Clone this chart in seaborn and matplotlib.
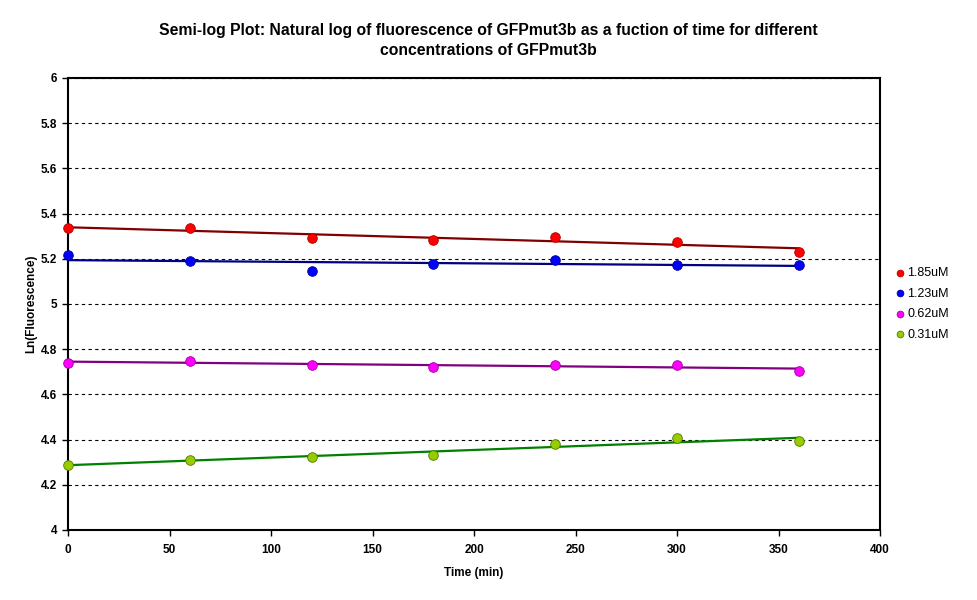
import numpy as np
import pandas as pd
import matplotlib
matplotlib.use("Agg")
import matplotlib.pyplot as plt
import seaborn as sns

time_min = [0, 60, 120, 180, 240, 300, 360]
ln_185 = [5.336, 5.336, 5.294, 5.283, 5.295, 5.276, 5.231]
ln_123 = [5.217, 5.190, 5.146, 5.177, 5.193, 5.173, 5.173]
ln_062 = [4.740, 4.749, 4.731, 4.721, 4.731, 4.731, 4.704]
ln_031 = [4.288, 4.310, 4.323, 4.332, 4.379, 4.406, 4.394]
series_labels = ["1.85uM", "1.23uM", "0.62uM", "0.31uM"]
y_ticks = [4, 4.2, 4.4, 4.6, 4.8, 5, 5.2, 5.4, 5.6, 5.8, 6]
y_tick_labels = ["4", "4.2", "4.4", "4.6", "4.8", "5", "5.2", "5.4", "5.6", "5.8", "6"]
x_ticks = [0, 50, 100, 150, 200, 250, 300, 350, 400]

point_colors = ["#FF0000", "#0000FF", "#FF00FF", "#99CC00"]
edge_colors = ["#B00000", "#000090", "#A000A0", "#4A7A00"]
line_colors = ["#800000", "#000080", "#800080", "#008000"]

sns.set_style("white")
plt.rcParams["font.family"] = ["Liberation Sans", "DejaVu Sans"]
plt.rcParams["text.color"] = "black"
plt.rcParams["axes.labelcolor"] = "black"
plt.rcParams["xtick.color"] = "black"
plt.rcParams["ytick.color"] = "black"

df = pd.DataFrame({"time": time_min * 4,
                   "value": ln_185 + ln_123 + ln_062 + ln_031,
                   "series": sum([[s] * len(time_min) for s in series_labels], [])})

fig = plt.figure(figsize=(9.77, 6.0), dpi=100)
ax = fig.add_axes([68 / 977, 70 / 600, (880 - 68) / 977, (530 - 78) / 600])

for i, s in enumerate(series_labels):
    sub = df[df["series"] == s]
    sns.regplot(data=sub, x="time", y="value", scatter=False, ci=None, truncate=True,
                ax=ax, line_kws={"color": line_colors[i], "lw": 1.6, "zorder": 2})
for i, s in enumerate(series_labels):
    sub = df[df["series"] == s]
    sns.scatterplot(data=sub, x="time", y="value", ax=ax, color=point_colors[i],
                    edgecolor=edge_colors[i], linewidth=0.6, s=48, zorder=3,
                    label=s, clip_on=False)

ax.set_xlim(0, 400)
ax.set_ylim(4, 6)
ax.set_xticks(x_ticks)
ax.set_yticks(y_ticks)
ax.set_yticklabels(y_tick_labels)
ax.yaxis.grid(True, linestyle=(0, (3, 3)), color="black", linewidth=0.8)
ax.xaxis.grid(False)
for sp in ax.spines.values():
    sp.set_visible(True)
    sp.set_color("black")
    sp.set_linewidth(1.5)
ax.tick_params(axis="both", direction="out", length=4, width=1, color="black",
               labelsize=8.5, left=True, bottom=True)
ax.tick_params(axis="x", pad=6)
ax.tick_params(axis="y", pad=4)
for lbl in ax.get_xticklabels() + ax.get_yticklabels():
    lbl.set_fontweight("bold")

ax.set_xlabel("Time (min)", fontsize=8.5, fontweight="bold", labelpad=8)
ax.set_ylabel("Ln(Fluorescence)", fontsize=8.5, fontweight="bold", labelpad=2)

fig.suptitle("Semi-log Plot: Natural log of fluorescence of GFPmut3b as a fuction of time for different\nconcentrations of GFPmut3b",
             x=0.5, y=0.962, fontsize=11.3, fontweight="bold", linespacing=1.4)

leg = ax.legend(loc="center left", bbox_to_anchor=(1.008, 0.5), frameon=False,
                fontsize=9, handletextpad=0.05, markerscale=0.7, labelspacing=0.68,
                borderaxespad=0.2, handlelength=1.0)

fig.savefig("out.png", dpi=100, facecolor="white")
